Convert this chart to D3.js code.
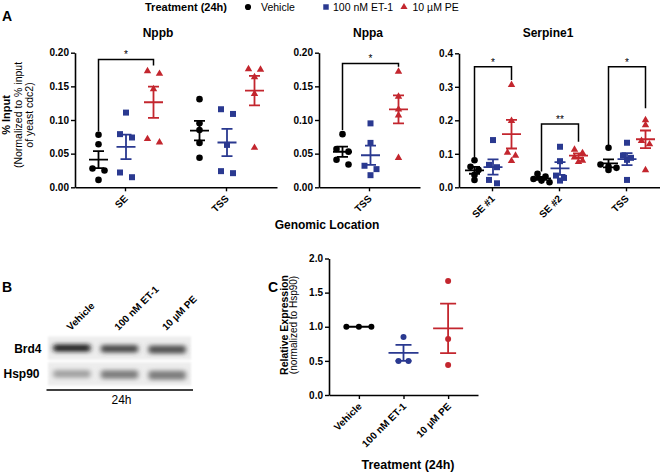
<!DOCTYPE html>
<html><head><meta charset="utf-8">
<script src="https://cdn.jsdelivr.net/npm/d3@7"></script>
<style>
body{margin:0;background:#fff}
svg text{font-family:"Liberation Sans",Arial,Helvetica,sans-serif;fill:#000}
</style>
</head><body>
<svg id="chart" width="660" height="472"></svg>
<script>
// ---------------- DATA ----------------
const treatments = ["Vehicle", "100 nM ET-1", "10 µM PE"];
const treatmentColors = ["#000000", "#2a3990", "#c3262e"];

// Panel A – ChIP % input, one array per treatment, one inner list per genomic location
const nppbLocations = ["SE", "TSS"];
const nppbVehicle = [[0.078, 0.064, 0.028, 0.025, 0.011], [0.131, 0.095, 0.085, 0.066, 0.044]];
const nppbET1     = [[0.111, 0.079, 0.074, 0.022, 0.015], [0.116, 0.109, 0.063, 0.024, 0.021]];
const nppbPE      = [[0.174, 0.170, 0.147, 0.073, 0.068], [0.177, 0.176, 0.165, 0.140, 0.060]];

const nppaLocations = ["TSS"];
const nppaVehicle = [[0.079, 0.057, 0.053, 0.041, 0.034]];
const nppaET1     = [[0.095, 0.066, 0.032, 0.027, 0.018]];
const nppaPE      = [[0.173, 0.136, 0.117, 0.108, 0.045]];

const serpineLocations = ["SE #1", "SE #2", "TSS"];
const serpineVehicle = [[0.081, 0.061, 0.052, 0.037, 0.022], [0.040, 0.032, 0.025, 0.020, 0.015], [0.118, 0.068, 0.062, 0.058, 0.052]];
const serpineET1     = [[0.141, 0.067, 0.060, 0.022, 0.012], [0.121, 0.078, 0.035, 0.028, 0.020], [0.133, 0.095, 0.088, 0.082, 0.022]];
const serpinePE      = [[0.308, 0.201, 0.106, 0.097, 0.081], [0.115, 0.105, 0.092, 0.082, 0.078], [0.203, 0.188, 0.141, 0.131, 0.054]];

// significance brackets: location, from/to treatment index, bracket level and leg ends (data units)
const nppbSig    = [{loc: "SE", from: 0, to: 2, top: 0.190, left: 0.083, right: 0.181, label: "*"}];
const nppaSig    = [{loc: "TSS", from: 0, to: 2, top: 0.184, left: 0.085, right: 0.179, label: "*"}];
const serpineSig = [
  {loc: "SE #1", from: 0, to: 2, top: 0.36, left: 0.088, right: 0.320, label: "*"},
  {loc: "SE #2", from: 0, to: 2, top: 0.189, left: 0.047, right: 0.136, label: "**"},
  {loc: "TSS",   from: 0, to: 2, top: 0.36, left: 0.126, right: 0.236, label: "*"}
];

const nppTicks = [0, 0.05, 0.10, 0.15, 0.20];
const serpineTicks = [0, 0.1, 0.2, 0.3, 0.4];

// Panel B – western blot band intensities (0 = none, 1 = black)
const blotProteins = ["Brd4", "Hsp90"];
const brd4Intensity  = [0.93, 0.74, 0.70];
const hsp90Intensity = [0.34, 0.50, 0.50];

// Panel C – relative expression (normalized to Hsp90)
const relVehicle = [1.0, 1.0, 1.0];
const relET1     = [0.85, 0.50, 0.50];
const relPE      = [1.67, 0.82, 0.44];
const relTicks   = [0, 0.5, 1.0, 1.5, 2.0];

// ---------------- DRAWING ----------------
const svg = d3.select("#chart");
const symbols = [d3.symbolCircle, d3.symbolSquare, d3.symbolTriangle];

function styleAxis(sel) {
  sel.attr("font-family", null).attr("font-size", null);
  sel.selectAll("path.domain").attr("stroke", "#000").attr("stroke-width", 1.6);
  sel.selectAll(".tick line").attr("stroke", "#000").attr("stroke-width", 1.4);
  sel.selectAll(".tick text").attr("fill", "#000").style("font-size", "10px").style("font-weight", "bold");
}

// GraphPad-like horizontal spreading of points that share a row
function dodge(values, y, step, rowH) {
  const pts = values.map((v, i) => ({i, y: y(v)})).sort((a, b) => a.y - b.y);
  const rows = [];
  pts.forEach(p => {
    const last = rows[rows.length - 1];
    if (last && Math.abs(p.y - last[0].y) < rowH) last.push(p); else rows.push([p]);
  });
  const off = new Array(values.length).fill(0);
  rows.forEach(r => r.forEach((p, k) => { off[p.i] = (k - (r.length - 1) / 2) * step; }));
  return off;
}

function errorBar(g, cx, y, vals, color, halfMean, halfCap) {
  const m = d3.mean(vals);
  const se = vals.length > 1 ? d3.deviation(vals) / Math.sqrt(vals.length) : 0;
  const p = d3.path();
  p.moveTo(cx - halfMean, y(m)); p.lineTo(cx + halfMean, y(m));
  p.moveTo(cx, y(m - se)); p.lineTo(cx, y(m + se));
  p.moveTo(cx - halfCap, y(m + se)); p.lineTo(cx + halfCap, y(m + se));
  p.moveTo(cx - halfCap, y(m - se)); p.lineTo(cx + halfCap, y(m - se));
  g.append("path").attr("d", p.toString()).attr("fill", "none").attr("stroke", color).attr("stroke-width", 1.8);
}

function drawChipPanel(cfg) {
  const g = svg.append("g");
  const x = d3.scaleBand().domain(cfg.categories).range([cfg.x0, cfg.x1]);
  const off = d3.scalePoint().domain(treatments).range(cfg.offsets);
  const y = d3.scaleLinear().domain([cfg.ticks[0], cfg.ticks[cfg.ticks.length - 1]]).range([cfg.yBottom, cfg.yTop]);

  g.append("g").attr("transform", `translate(${cfg.x0},0)`)
    .call(d3.axisLeft(y).tickValues(cfg.ticks).tickFormat(d3.format(cfg.fmt)).tickSize(4).tickSizeOuter(0).tickPadding(2))
    .call(styleAxis);
  const xg = g.append("g").attr("transform", `translate(0,${cfg.yBottom})`)
    .call(d3.axisBottom(x).tickSize(4).tickSizeOuter(0))
    .call(styleAxis);
  xg.selectAll(".tick text").attr("x", 0).attr("y", 0).attr("dy", 0)
    .attr("text-anchor", "end").attr("transform", "translate(3,12) rotate(-45)");

  g.append("text").attr("x", cfg.titleX).attr("y", 37).attr("text-anchor", "middle")
    .style("font-size", "12px").style("font-weight", "bold").text(cfg.title);

  const cxOf = (cat, ti) => x(cat) + x.bandwidth() / 2 + off(treatments[ti]);

  cfg.categories.forEach((cat, ci) => {
    treatments.forEach((t, ti) => {
      const vals = cfg.series[ti][ci];
      const cx = cxOf(cat, ti);
      const dx = dodge(vals, y, cfg.step, cfg.rowH);
      g.selectAll(null).data(vals).join("path")
        .attr("d", d3.symbol(symbols[ti], [34, 36, 24][ti]))
        .attr("transform", (d, i) => `translate(${cx + dx[i]},${y(d) + (ti === 2 ? 0.8 : 0)})`)
        .attr("fill", treatmentColors[ti]);
      errorBar(g, cx, y, vals, treatmentColors[ti], 9.5, 5.5);
    });
  });

  cfg.sig.forEach(s => {
    const xl = cxOf(s.loc, s.from), xr = cxOf(s.loc, s.to);
    const p = d3.path();
    p.moveTo(xl, y(s.left)); p.lineTo(xl, y(s.top)); p.lineTo(xr, y(s.top)); p.lineTo(xr, y(s.right));
    g.append("path").attr("d", p.toString()).attr("fill", "none").attr("stroke", "#000").attr("stroke-width", 1.5);
    g.append("text").attr("x", (xl + xr) / 2).attr("y", y(s.top) - 1).attr("text-anchor", "middle")
      .attr("fill", "#000").style("font-size", "10px").text(s.label);
  });
}

// Panel label A and legend
svg.append("text").attr("x", 2).attr("y", 21).style("font-size", "14px").style("font-weight", "bold").text("A");
svg.append("text").attr("x", 145).attr("y", 11).style("font-size", "11px").style("font-weight", "bold").text("Treatment (24h)");
const legendX = d3.scalePoint().domain(treatments).range([248, 404]);
const legendTextDx = [13, 7, 8.5];
treatments.forEach((t, i) => {
  svg.append("path").attr("d", d3.symbol(symbols[i], [30, 30, 22][i]))
    .attr("transform", `translate(${legendX(t)},7)`).attr("fill", treatmentColors[i]);
  svg.append("text").attr("x", legendX(t) + legendTextDx[i]).attr("y", 11).style("font-size", "10.5px").text(t);
});

drawChipPanel({title: "Nppb", titleX: 158, categories: nppbLocations, series: [nppbVehicle, nppbET1, nppbPE],
  x0: 75, x1: 277, yTop: 52.7, yBottom: 187.3, ticks: nppTicks, fmt: ".2f", offsets: [-27, 28], sig: nppbSig, step: 12, rowH: 5.5});
drawChipPanel({title: "Nppa", titleX: 368, categories: nppaLocations, series: [nppaVehicle, nppaET1, nppaPE],
  x0: 319, x1: 420, yTop: 52.7, yBottom: 187.3, ticks: nppTicks, fmt: ".2f", offsets: [-27, 29], sig: nppaSig, step: 12, rowH: 5.5});
drawChipPanel({title: "Serpine1", titleX: 548, categories: serpineLocations, series: [serpineVehicle, serpineET1, serpinePE],
  x0: 459, x1: 660, yTop: 53.3, yBottom: 187.3, ticks: serpineTicks, fmt: ".1f", offsets: [-18, 19], sig: serpineSig, step: 8, rowH: 3.5});

// Y axis title A
const yTitleA = svg.append("g").attr("transform", "translate(0,115)");
[["% Input", 10, "11px", "bold"], ["(Normalized to % input", 21.5, "10.5px", "normal"], ["of yeast cdc2)", 33, "10.5px", "normal"]]
  .forEach(([t, bx, fs, fw]) => {
    yTitleA.append("text").attr("transform", `translate(${bx},0) rotate(-90)`).attr("text-anchor", "middle")
      .style("font-size", fs).style("font-weight", fw).text(t);
  });
svg.append("text").attr("x", 327).attr("y", 229).attr("text-anchor", "middle")
  .style("font-size", "12px").style("font-weight", "bold").text("Genomic Location");

// ---------------- Panel B: western blot ----------------
svg.append("text").attr("x", 2).attr("y", 292).style("font-size", "14px").style("font-weight", "bold").text("B");
const defs = svg.append("defs");
defs.append("filter").attr("id", "blurBand").attr("x", "-30%").attr("y", "-100%").attr("width", "160%").attr("height", "300%")
  .append("feGaussianBlur").attr("stdDeviation", "2.8 1.9");
defs.append("filter").attr("id", "blurBox").append("feGaussianBlur").attr("stdDeviation", 0.8);

const laneX = d3.scaleBand().domain(treatments).range([48, 191]);
const rowY = d3.scaleBand().domain(blotProteins).range([336.5, 385.5]).paddingInner(0.1);
const gray = d3.scaleLinear().domain([0, 1]).range(["#eeeeee", "#0d0d0d"]);
const blotG = svg.append("g");
blotProteins.forEach((prot, pi) => {
  const intens = pi === 0 ? brd4Intensity : hsp90Intensity;
  blotG.append("rect").attr("x", laneX.range()[0]).attr("y", rowY(prot)).attr("width", laneX.range()[1] - laneX.range()[0])
    .attr("height", rowY.bandwidth()).attr("fill", "#ededed").attr("filter", "url(#blurBox)");
  treatments.forEach((t, ti) => {
    const bw = laneX.bandwidth() * 0.78;
    const bh = rowY.bandwidth() * (pi === 0 ? 0.30 : 0.34) + ti * 0.6;
    blotG.append("rect")
      .attr("x", laneX(t) + (laneX.bandwidth() - bw) / 2)
      .attr("y", rowY(prot) + rowY.bandwidth() / 2 - bh / 2 + ti * 0.7)
      .attr("width", bw).attr("height", bh).attr("rx", 2)
      .attr("fill", gray(intens[ti])).attr("filter", "url(#blurBand)");
  });
  svg.append("text").attr("x", pi === 0 ? 41.5 : 39.5).attr("y", rowY(prot) + rowY.bandwidth() / 2 + 4.5)
    .attr("text-anchor", "end").style("font-size", "12px").style("font-weight", "bold").text(prot);
});
treatments.forEach(t => {
  svg.append("text").attr("transform", `translate(${laneX(t) + laneX.bandwidth() / 2 - 1},331) rotate(-45)`)
    .style("font-size", "10px").style("font-weight", "bold").text(t);
});
svg.append("line").attr("x1", 46.5).attr("x2", 193).attr("y1", 390).attr("y2", 390).attr("stroke", "#000").attr("stroke-width", 1.5);
svg.append("text").attr("x", 121.5).attr("y", 404).attr("text-anchor", "middle").style("font-size", "12px").text("24h");

// ---------------- Panel C ----------------
svg.append("text").attr("x", 268).attr("y", 292).style("font-size", "14px").style("font-weight", "bold").text("C");
(function () {
  const g = svg.append("g");
  const x = d3.scalePoint().domain(treatments).range([329, 478]).padding(0.67);
  const y = d3.scaleLinear().domain([relTicks[0], relTicks[relTicks.length - 1]]).range([395, 258.5]);
  g.append("g").attr("transform", "translate(329,0)")
    .call(d3.axisLeft(y).tickValues(relTicks).tickFormat(d3.format(".1f")).tickSize(4).tickSizeOuter(0).tickPadding(2))
    .call(styleAxis);
  const xg = g.append("g").attr("transform", "translate(0,395)")
    .call(d3.axisBottom(x).tickSize(4).tickSizeOuter(0)).call(styleAxis);
  xg.selectAll(".tick text").attr("x", 0).attr("y", 0).attr("dy", 0)
    .attr("text-anchor", "end").attr("transform", "translate(3,12) rotate(-45)");
  [relVehicle, relET1, relPE].forEach((vals, ti) => {
    const cx = x(treatments[ti]);
    const dx = dodge(vals, y, ti === 0 ? 12.5 : 10, 5);
    g.selectAll(null).data(vals).join("circle")
      .attr("cx", (d, i) => cx + dx[i]).attr("cy", d => y(d)).attr("r", 3)
      .attr("fill", treatmentColors[ti]);
    errorBar(g, cx, y, vals, treatmentColors[ti], 15, 8);
  });
  const yt = svg.append("g").attr("transform", "translate(0,325)");
  yt.append("text").attr("transform", "translate(288,0) rotate(-90)").attr("text-anchor", "middle")
    .style("font-size", "10.5px").style("font-weight", "bold").text("Relative Expression");
  yt.append("text").attr("transform", "translate(296.5,0) rotate(-90)").attr("text-anchor", "middle")
    .style("font-size", "10px").text("(normalized to Hsp90)");
  svg.append("text").attr("x", 408).attr("y", 469).attr("text-anchor", "middle")
    .style("font-size", "12.5px").style("font-weight", "bold").text("Treatment (24h)");
})();
</script>
</body></html>
